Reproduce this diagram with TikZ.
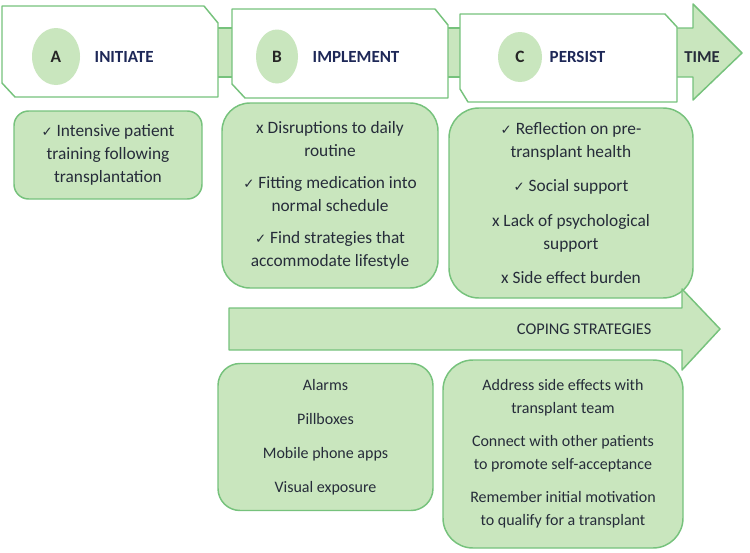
\documentclass[tikz,border=0pt]{standalone}
\usepackage{fontspec}
\setmainfont{Carlito}
\newfontfamily\symfont{DejaVu Sans}
\usetikzlibrary{shapes.geometric}
\definecolor{leaf}{RGB}{201,230,190}
\definecolor{rim}{RGB}{118,194,124}
\definecolor{ink}{RGB}{38,44,58}
\definecolor{navy}{RGB}{30,40,88}
\newcommand{\yes}{{\symfont\fontsize{10}{10}\selectfont ✓}\ }
\newcommand{\no}{x\ }

\begin{document}
\begin{tikzpicture}[x=0.75pt, y=-0.75pt,
    banner/.style={draw=rim, fill=white, line width=1.1pt, line join=round},
    band/.style={draw=rim, fill=leaf, line width=1.1pt, line join=round},
    card/.style={draw=rim, fill=leaf, line width=1.1pt, rounded corners=#1, align=center,
      text=ink, inner sep=0pt, font=\fontsize{13}{17.25}\selectfont},
    card/.default=20pt,
    lowcard/.style={card=#1, font=\fontsize{12}{17}\selectfont},
    badge/.style={ellipse, fill=leaf, inner sep=0pt, font=\bfseries\fontsize{13}{14}\selectfont, text=black!85},
    phase/.style={anchor=west, text=navy, font=\bfseries\fontsize{12.75}{14}\selectfont}]
  \useasboundingbox (0,0) rectangle (750,553);

  % time arrow and links
  \draw[band] (670,28) -- (693,28) -- (693,4) -- (742,53) -- (693,100) -- (693,77) -- (670,77) -- cycle;
  \draw[band] (212,28) rectangle (238,77);
  \draw[band] (442,28) rectangle (466,77);

  % phase banners
  \draw[banner] (2,6) -- (204,6) -- (218,23) -- (218,97) -- (15,97) -- (2,83) -- cycle;
  \draw[banner] (232,9) -- (435,9) -- (448,25) -- (448,98) -- (245,98) -- (232,84) -- cycle;
  \draw[banner] (460,14) -- (665,14) -- (677,27) -- (677,102) -- (468,102) -- (460,89) -- cycle;

  \node[badge, minimum width=36pt, minimum height=42.75pt] (eA) at (56,56.5) {A};
  \node[phase] (initiate) at (90,57) {INITIATE};
  \node[badge, minimum width=31.5pt, minimum height=40.5pt] (eB) at (277,56.5) {B};
  \node[phase] (implement) at (308,57) {IMPLEMENT};
  \node[badge, minimum width=33pt, minimum height=37.5pt] (eC) at (520,57) {C};
  \node[phase] (persist) at (545,57) {PERSIST};
  \node[text=ink, font=\bfseries\fontsize{12.5}{14}\selectfont] (time) at (702,57) {TIME};

  % barriers and facilitators
  \node[card=11pt, minimum width=141pt, minimum height=66pt] (train) at (108,155)
    {\yes Intensive patient\\training following\\transplantation};
  \node[card=21pt, minimum width=162pt, minimum height=138.75pt] (routine) at (330,195.5)
    {\no Disruptions to daily\\routine\\[7pt]\yes Fitting medication into\\normal schedule\\[7pt]\yes Find strategies that\\accommodate lifestyle};
  \node[card=22.5pt, minimum width=183pt, minimum height=142.5pt] (health) at (571,203)
    {\yes Reflection on pre-\\transplant health\\[8.5pt]\yes Social support\\[8.5pt]\no Lack of psychological\\support\\[8.5pt]\no Side effect burden};

  % coping strategies
  \draw[band] (229,308) -- (682,308) -- (682,289) -- (720,329) -- (682,370) -- (682,350) -- (229,350) -- cycle;
  \node[text=ink, font=\fontsize{12.25}{14}\selectfont, anchor=east] (coping) at (656,329) {COPING STRATEGIES};

  \node[lowcard=16.5pt, minimum width=161.25pt, minimum height=110.25pt] (tools) at (325.5,437)
    {Alarms\\[8.5pt]Pillboxes\\[8.5pt]Mobile phone apps\\[8.5pt]Visual exposure};
  \node[lowcard=22.5pt, minimum width=180pt, minimum height=141pt] (habits) at (563,454)
    {Address side effects with\\transplant team\\[8pt]Connect with other patients\\to promote self-acceptance\\[8pt]Remember initial motivation\\to qualify for a transplant};
\end{tikzpicture}
\end{document}
